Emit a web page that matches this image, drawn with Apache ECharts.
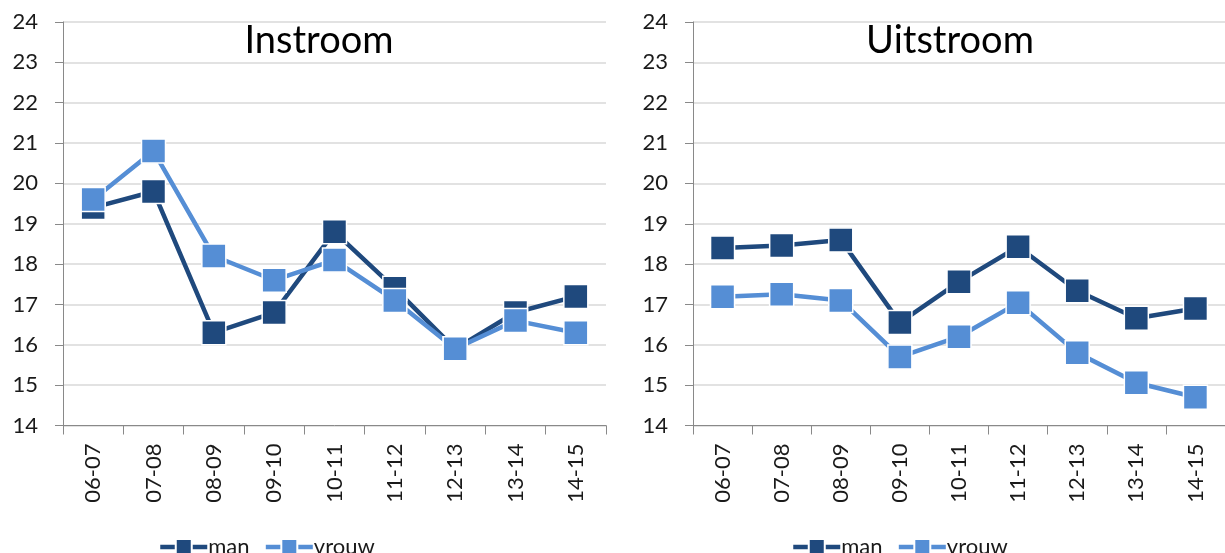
<!DOCTYPE html>
<html>
<head>
<meta charset="utf-8">
<script src="https://cdn.jsdelivr.net/npm/echarts@6/dist/echarts.min.js"></script>
<style>
  html, body { margin: 0; padding: 0; background: #fff; }
  #main { width: 1225px; height: 553px; }
</style>
</head>
<body>
<div id="main"></div>
<script>
// schooljaren
const categories = ['06-07', '07-08', '08-09', '09-10', '10-11', '11-12', '12-13', '13-14', '14-15'];

// Instroom
const instroomMan = [19.4, 19.8, 16.3, 16.8, 18.8, 17.4, 15.9, 16.8, 17.2];
const instroomVrouw = [19.6, 20.8, 18.2, 17.6, 18.1, 17.1, 15.9, 16.6, 16.3];

// Uitstroom
const uitstroomMan = [18.4, 18.46, 18.6, 16.55, 17.56, 18.43, 17.34, 16.66, 16.9];
const uitstroomVrouw = [17.19, 17.25, 17.1, 15.7, 16.2, 17.04, 15.8, 15.06, 14.7];

const titles = ['Instroom', 'Uitstroom'];
const yTicks = { min: 14, max: 24, step: 1 };

const darkBlue = '#1F497D';
const lightBlue = '#558ED5';
const font = 'Lato, "Open Sans", sans-serif';

const chart = echarts.init(document.getElementById('main'));

function xAxis(idx) {
  return {
    type: 'category',
    gridIndex: idx,
    data: categories,
    boundaryGap: true,
    axisLine: { lineStyle: { color: '#898989', width: 1 } },
    axisTick: { show: true, length: 9, interval: 0, lineStyle: { color: '#898989' } },
    axisLabel: { rotate: 90, fontSize: 22, color: '#1a1a1a', fontFamily: font, margin: 18, interval: 0 }
  };
}

function yAxis(idx) {
  return {
    type: 'value',
    gridIndex: idx,
    min: yTicks.min,
    max: yTicks.max,
    interval: yTicks.step,
    axisLine: { show: true, lineStyle: { color: '#898989', width: 1 } },
    axisTick: { show: true, length: 8, lineStyle: { color: '#898989' } },
    axisLabel: { fontSize: 22, color: '#1a1a1a', fontFamily: font, margin: 25 },
    splitLine: { lineStyle: { color: '#D9D9D9', width: 1.5 } }
  };
}

function lineSeries(name, data, color, idx) {
  return {
    name: name,
    type: 'line',
    xAxisIndex: idx,
    yAxisIndex: idx,
    data: data,
    symbol: 'rect',
    symbolSize: 24,
    lineStyle: { color: color, width: 4.5 },
    itemStyle: { color: color, borderColor: '#fff', borderWidth: 1.5 },
    emphasis: { disabled: true },
    animation: false
  };
}

function legend(left) {
  return {
    left: left,
    top: 531,
    itemWidth: 47,
    itemHeight: 20,
    itemGap: 14,
    lineStyle: { width: 4.5 },
    textStyle: { fontSize: 22, color: '#1a1a1a', fontFamily: font, padding: [0, 0, 0, -4] },
    data: ['man', 'vrouw']
  };
}

chart.setOption({
  animation: false,
  title: [
    { text: titles[0], left: 314, top: 17, textAlign: 'center',
      textStyle: { fontSize: 38, fontWeight: 'normal', color: '#000', fontFamily: font } },
    { text: titles[1], left: 945, top: 17, textAlign: 'center',
      textStyle: { fontSize: 38, fontWeight: 'normal', color: '#000', fontFamily: font } }
  ],
  legend: [legend(153), legend(786)],
  grid: [
    { left: 63, top: 22, width: 543, height: 403.5 },
    { left: 693, top: 22, width: 543, height: 403.5 }
  ],
  xAxis: [xAxis(0), xAxis(1)],
  yAxis: [yAxis(0), yAxis(1)],
  series: [
    lineSeries('man', instroomMan, darkBlue, 0),
    lineSeries('vrouw', instroomVrouw, lightBlue, 0),
    lineSeries('man', uitstroomMan, darkBlue, 1),
    lineSeries('vrouw', uitstroomVrouw, lightBlue, 1)
  ]
});
</script>
</body>
</html>
